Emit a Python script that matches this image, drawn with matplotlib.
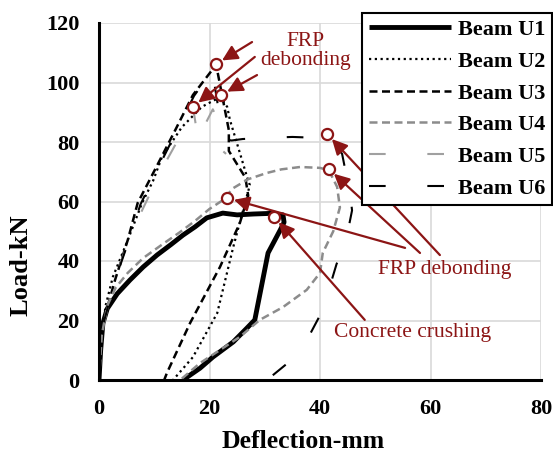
import matplotlib
matplotlib.use('Agg')
import matplotlib.pyplot as plt

# load-deflection curves (deflection mm, load kN)
u1_x = [0, 0.3, 0.7, 1.5, 3.3, 5.6, 8, 10.5, 13, 15.2, 17.4, 19.5, 22.4, 25, 28, 31, 33.3, 33.5, 32.8, 30.6, 28.2, 26.8, 24.3, 20.6, 18.3, 15.2]
u1_y = [0, 10, 19, 24, 29, 33.6, 38, 42, 45.5, 48.7, 51.5, 54.5, 56.1, 55.5, 55.8, 56, 55.5, 53, 50.4, 42.7, 20.2, 17.5, 12.8, 7.7, 4.0, 0]

u2_x = [0, 0.5, 1.2, 2.5, 5.2, 7.8, 9.8, 11.4, 15, 18.6, 20.8, 22, 23.2, 23.7, 25.5, 26.8, 27.3, 26.5, 24.3, 21.4, 17, 13.4]
u2_y = [0, 15, 25, 34.6, 47, 59.5, 67, 75, 85, 91.8, 94, 95, 91.8, 87.4, 76.3, 68.2, 65.5, 60, 44.7, 22.5, 7.7, 0]

u3_x = [0, 0.7, 2.9, 5.2, 7, 10.1, 13.8, 17, 20.6, 21.2, 23.5, 23.5, 26.5, 27, 25.5, 21.9, 16.5, 12.3, 11.8]
u3_y = [0, 19, 33.6, 47, 59.5, 70.6, 84, 95.8, 104.5, 106, 84, 77, 68, 62, 52.8, 38, 19.2, 2.4, 0]

u4_x = [0, 0.5, 1.5, 3, 5.2, 8, 11.4, 14.5, 17.4, 20, 22.3, 24.3, 27, 30.4, 33, 36.4, 40, 41.6, 43.1, 43.6, 42.4, 40.5, 40, 37.6, 33.3, 29.1, 25.5, 21.9, 18.3, 14.7]
u4_y = [0, 15, 25, 31, 36, 41, 45.5, 49.5, 53.5, 57.5, 60.3, 64.5, 67.5, 69.6, 70.8, 71.6, 71.3, 70.5, 64.9, 58, 50, 42.7, 36, 30.3, 24.5, 20.2, 14.5, 10.1, 5.7, 0]

u5_x = [0, 0.3, 0.8, 2, 4, 6.5, 9.6, 12, 14.3, 16, 17, 17.5, 17.6, 19.5, 20.6, 22.3, 22.4, 23]
u5_y = [0, 8, 18, 28, 40, 52, 64, 73, 80.7, 87, 91.8, 86, 80, 87, 91, 84, 77, 76]

u6_x = [0, 0.8, 3, 5.5, 7.5, 10.5, 14, 17.2, 20.5, 22.5, 24, 26, 29, 32, 35, 38, 41.3, 42.5, 44, 45.5, 45.8, 44.5, 43, 40.5, 36.4, 30.4]
u6_y = [0, 19, 34, 47.5, 59, 70.5, 83.5, 95.5, 104, 81, 80.5, 81, 81.3, 81.5, 81.7, 81.5, 81.5, 80, 76, 62, 57, 45, 39, 23.5, 9.1, 0]

labels = ['Beam U1', 'Beam U2', 'Beam U3', 'Beam U4', 'Beam U5', 'Beam U6']

# failure points (circles) and where each arrow starts
fail_x = [21.2, 17.0, 22.1, 23.2, 41.6, 41.3, 31.7]
fail_y = [106.2, 91.8, 95.8, 61.2, 70.9, 82.7, 54.8]
arrow_x = [27.7, 28.2, 28.6, 55.4, 58.1, 61.7, 48.1]
arrow_y = [113.6, 108.6, 102.5, 44.4, 42.7, 42.0, 20.2]

red = '#8C1515'
serif = 'Liberation Serif'

fig = plt.figure(figsize=(5.53, 4.55), dpi=100)
ax = fig.add_axes([99/553, 1 - 380/455, 442/553, 357/455])

ax.plot(u1_x, u1_y, color='black', lw=3.5, solid_capstyle='butt', label=labels[0])
ax.plot(u2_x, u2_y, color='black', lw=1.6, linestyle=(0, (1, 1.6)), label=labels[1])
ax.plot(u3_x, u3_y, color='black', lw=1.8, linestyle=(0, (3.2, 1.8)), label=labels[2])
ax.plot(u4_x, u4_y, color='#8c8c8c', lw=1.8, linestyle=(0, (3.2, 1.8)), label=labels[3])
ax.plot(u5_x, u5_y, color='#a0a0a0', lw=1.5, linestyle=(0, (8, 20)), label=labels[4])
ax.plot(u6_x, u6_y, color='black', lw=1.5, linestyle=(0, (8, 20)), label=labels[5])

for i in range(len(fail_x)):
    ax.annotate('', xy=(fail_x[i], fail_y[i]), xytext=(arrow_x[i], arrow_y[i]),
                arrowprops=dict(arrowstyle='-|>', color=red, lw=1.6,
                                mutation_scale=23, shrinkA=0, shrinkB=5))
ax.plot(fail_x, fail_y, 'o', ms=8, mfc='white', mec=red, mew=1.6, zorder=5)

ax.text(37.4, 110.5, 'FRP\ndebonding', color=red, fontsize=15.5, family=serif,
        ha='center', va='center', linespacing=1.0)
ax.text(62.6, 37.0, 'FRP debonding', color=red, fontsize=15.5, family=serif,
        ha='center', va='center')
ax.text(56.8, 16.0, 'Concrete crushing', color=red, fontsize=15.5, family=serif,
        ha='center', va='center')

ax.set_xlim(0, 80)
ax.set_ylim(0, 120)
ax.set_xticks([0, 20, 40, 60, 80])
ax.set_yticks([0, 20, 40, 60, 80, 100, 120])
ax.grid(True, color='#d9d9d9', lw=1.2)
ax.set_axisbelow(True)
ax.tick_params(length=0, labelsize=16, pad=14)
for lab in ax.get_xticklabels() + ax.get_yticklabels():
    lab.set_fontfamily(serif)
    lab.set_fontweight('bold')

ax.spines['top'].set_visible(False)
ax.spines['right'].set_visible(False)
ax.spines['left'].set_linewidth(2.2)
ax.spines['bottom'].set_linewidth(2.2)

ax.set_xlabel('Deflection-mm', fontsize=18.5, family=serif, fontweight='bold')
ax.set_ylabel('Load-kN', fontsize=19, family=serif, fontweight='bold')
ax.xaxis.set_label_coords(0.4615, -0.14)
ax.yaxis.set_label_coords(-0.15, 0.322)

leg = ax.legend(loc='upper left', bbox_to_anchor=(362/553, 1 - 13/455),
                bbox_transform=fig.transFigure, borderaxespad=0, fancybox=False,
                edgecolor='black', framealpha=1, handlelength=3.7, handletextpad=0.3,
                labelspacing=0.5, borderpad=0.3,
                prop=dict(family=serif, weight='bold', size=16))
leg.get_frame().set_linewidth(1.5)

fig.savefig('out.png', dpi=100)
